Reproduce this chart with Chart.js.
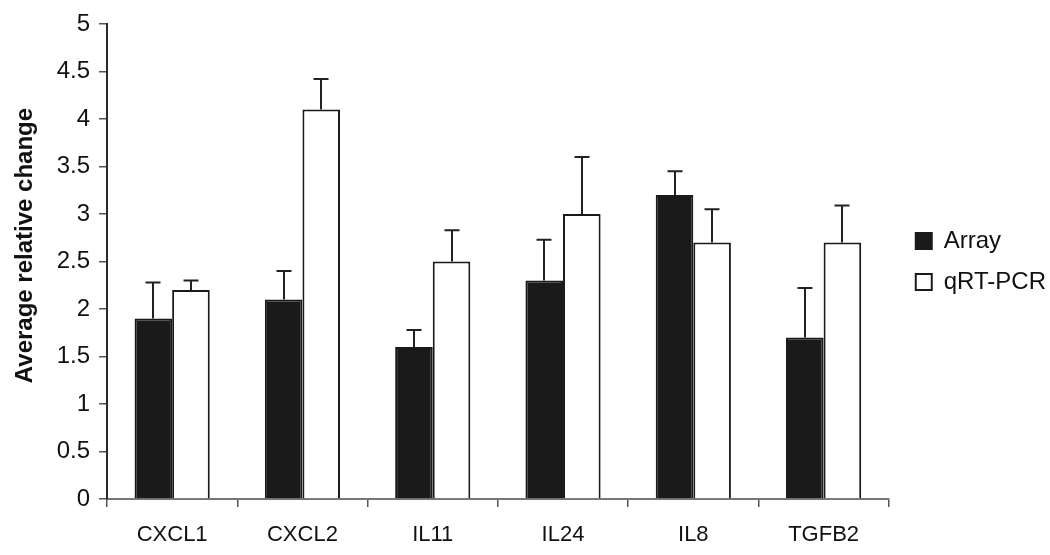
<!DOCTYPE html>
<html>
<head>
<meta charset="utf-8">
<script src="https://cdn.jsdelivr.net/npm/chart.js@4.4.1/dist/chart.umd.min.js"></script>
<style>
  html, body { margin: 0; padding: 0; background: #ffffff; }
  #wrap { width: 1050px; height: 555px; }
</style>
</head>
<body>
<div id="wrap"><canvas id="c" width="1050" height="555"></canvas></div>
<script>
const categories = ['CXCL1', 'CXCL2', 'IL11', 'IL24', 'IL8', 'TGFB2'];
const arrayValues = [1.9, 2.1, 1.6, 2.3, 3.2, 1.7];
const arrayErrors = [0.38, 0.3, 0.18, 0.43, 0.25, 0.52];
const qpcrValues = [2.2, 4.1, 2.5, 3.0, 2.7, 2.7];
const qpcrErrors = [0.1, 0.32, 0.33, 0.6, 0.35, 0.39];
const yTickValues = [0, 0.5, 1, 1.5, 2, 2.5, 3, 3.5, 4, 4.5, 5];
const yAxisTitle = 'Average relative change';
const seriesNames = ['Array', 'qRT-PCR'];

const FONT = '"Liberation Sans", Arial, Helvetica, sans-serif';
const INK = '#1a1a1a';

const errorBars = {
  id: 'errorBars',
  afterDatasetsDraw(chart) {
    const ctx = chart.ctx;
    const y = chart.scales.y;
    ctx.save();
    ctx.strokeStyle = '#222';
    ctx.lineWidth = 2;
    chart.data.datasets.forEach((ds, di) => {
      const meta = chart.getDatasetMeta(di);
      meta.data.forEach((bar, i) => {
        const top = y.getPixelForValue(ds.data[i] + ds.errors[i]);
        const base = y.getPixelForValue(ds.data[i]);
        const x = Math.round(bar.x);
        ctx.beginPath();
        ctx.moveTo(x, base);
        ctx.lineTo(x, top);
        ctx.moveTo(x - 7.5, top);
        ctx.lineTo(x + 7.5, top);
        ctx.stroke();
      });
    });
    ctx.restore();
  }
};

const yTitle = {
  id: 'yTitle',
  afterDraw(chart) {
    const ctx = chart.ctx;
    const area = chart.chartArea;
    ctx.save();
    ctx.translate(25, (area.top + area.bottom) / 2 - 16);
    ctx.rotate(-Math.PI / 2);
    ctx.fillStyle = '#111';
    ctx.font = 'bold 24px ' + FONT;
    ctx.textAlign = 'center';
    ctx.textBaseline = 'middle';
    ctx.fillText(yAxisTitle, 0, 0);
    ctx.restore();
  }
};

const legendShift = {
  id: 'legendShift',
  afterLayout(chart) {
    const lg = chart.legend;
    if (!lg) return;
    const area = chart.chartArea;
    const d = area.right + 10 - lg.left;
    lg.left += d;
    lg.right += d;
    lg.top = area.top;
    lg.bottom = area.bottom;
  }
};

new Chart(document.getElementById('c'), {
  type: 'bar',
  data: {
    labels: categories,
    datasets: [
      {
        label: seriesNames[0],
        data: arrayValues,
        errors: arrayErrors,
        backgroundColor: INK,
        borderColor: INK,
        borderWidth: 2,
        categoryPercentage: 0.577,
        barPercentage: 1.0
      },
      {
        label: seriesNames[1],
        data: qpcrValues,
        errors: qpcrErrors,
        backgroundColor: '#ffffff',
        borderColor: INK,
        borderWidth: 2,
        categoryPercentage: 0.577,
        barPercentage: 1.0
      }
    ]
  },
  options: {
    responsive: false,
    animation: false,
    devicePixelRatio: 1,
    layout: { padding: { left: 0, right: 4, top: 24, bottom: 0 } },
    plugins: {
      tooltip: { enabled: false },
      legend: {
        position: 'right',
        align: 'center',
        labels: {
          boxWidth: 16,
          boxHeight: 16,
          padding: 17,
          color: '#111',
          font: { family: FONT, size: 24 }
        }
      }
    },
    scales: {
      x: {
        grid: {
          display: true,
          drawOnChartArea: false,
          drawTicks: true,
          tickLength: 8,
          color: '#555',
          lineWidth: 1.5,
          offset: true
        },
        border: { display: true, color: '#777', width: 2 },
        ticks: {
          color: '#111',
          padding: 15,
          font: { family: FONT, size: 22 }
        },
        afterFit(scale) { scale.height = 56; }
      },
      y: {
        min: 0,
        max: 5,
        afterBuildTicks(scale) { scale.ticks = yTickValues.map(v => ({ value: v })); },
        grid: {
          display: true,
          drawOnChartArea: false,
          drawTicks: true,
          tickLength: 8,
          color: '#555',
          lineWidth: 1.5
        },
        border: { display: true, color: '#2a2a2a', width: 2 },
        ticks: {
          color: '#111',
          padding: 9,
          font: { family: FONT, size: 24 },
          callback: (v) => String(v)
        },
        title: { display: false },
        afterFit(scale) { scale.width = 107; }
      }
    }
  },
  plugins: [errorBars, yTitle, legendShift]
});
</script>
</body>
</html>
